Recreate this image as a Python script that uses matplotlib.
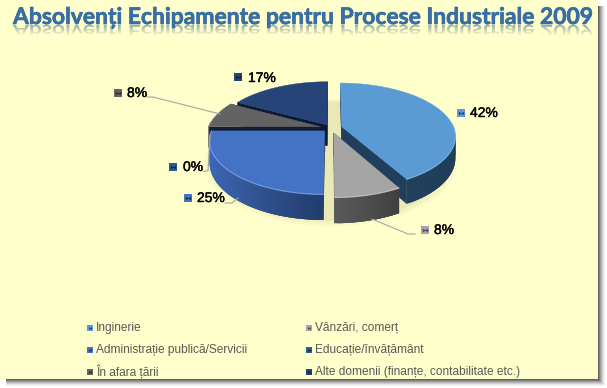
import numpy as np
import matplotlib
matplotlib.use("Agg")
import matplotlib.pyplot as plt
from matplotlib.patches import Polygon, Rectangle, PathPatch
from matplotlib.textpath import TextPath
from matplotlib.font_manager import FontProperties
from matplotlib.transforms import Affine2D
from matplotlib.colors import to_rgb, LinearSegmentedColormap
import matplotlib.patheffects as pe

# ---------- data ----------
title = "Absolvenți Echipamente pentru Procese Industriale 2009"
categories = ["Inginerie", "Vânzări, comerț", "Administrație publică/Servicii",
              "Educație/învățământ", "În afara țării",
              "Alte domenii (finanțe, contabilitate etc.)"]
values = [42, 8, 25, 0, 8, 17]

# ---------- style ----------
top_colors = ["#5b9bd5", "#a5a5a5", "#4472c4", "#255e91", "#636363", "#264478"]
wall_left = ["#24435f", "#5a5a5a", "#3f6ab8", "#1e4a70", "#444444", "#1b3157"]
wall_right = ["#1f3d58", "#3f3f3f", "#233c6c", "#1e4a70", "#333333", "#14264a"]
cut_colors = ["#203f5c", "#4a4a4a", "#1c3258", "#1e4a70", "#0f1d36", "#0c1a36"]
rim_colors = ["#7fb3e2", "#c4c4c4", "#7ea2e4", "#255e91", "#808080", "#3b5a96"]
explode = [0.10, 0.10, 0.08, 0.10, 0.10, 0.07]
panel = "#ffffcc"
CX, CY, RX, RY, K, DEPTH = 331, 128, 112, 51.5, 0.17, 21
label_pos = [(470, 113), (434, 230), (197, 198), (183, 167), (127, 93), (248, 78)]
label_mark = [(461, 113), (425, 230), (188, 198), (173, 167), (118, 93), (238, 77)]
leaders = {1: [(415, 234), (408, 234), (372, 219)],
           2: [(225, 203), (232, 203), (238, 198)],
           3: [(203, 171), (208, 171), (210, 135)],
           4: [(147, 97), (153, 97), (220, 114)]}
legend_rows = [327.5, 350, 372]
legend_cols = [90, 309]

fig = plt.figure(figsize=(6.07, 3.88), dpi=100, facecolor="white")

# Slice geometry comes from matplotlib's own pie layout
tmp = fig.add_axes([0, 0, 0.1, 0.1])
wedges, _ = tmp.pie(values, explode=explode, startangle=90,
                    counterclock=False, radius=1)
geom = [(w.center[0], w.center[1], w.theta1, w.theta2) for w in wedges]
tmp.remove()

ax = fig.add_axes([0, 0, 1, 1])
ax.set_xlim(0, 607)
ax.set_ylim(388, 0)
ax.axis("off")

# panel and window shadow
for i, a in zip(range(8, 0, -1), [.05, .08, .11, .15, .2, .27, .35, .45]):
    ax.add_patch(Rectangle((6, 6), 591 + i, 372 + i, fc="#303030", ec="none", alpha=a, zorder=0))
ax.add_patch(Rectangle((0, 0), 598, 379, fc=panel, ec="none", zorder=1))


def proj(u, v, z=0.0):
    w = 1 + K * v
    return CX + RX * u / w, CY - RY * v / w + z * DEPTH / w


def rim(g, n=None):
    cx, cy, t1, t2 = g
    n = n or max(2, int(abs(t2 - t1)))
    th = np.radians(np.linspace(t1, t2, n))
    return cx + np.cos(th), cy + np.sin(th)


# soft ground shadow
th = np.radians(np.linspace(0, 360, 180))
for grow, a in [(1.10, .05), (1.07, .06), (1.04, .08)]:
    pts = [proj(grow * np.cos(t), grow * np.sin(t) - 0.03, 1.0) for t in th]
    ax.add_patch(Polygon(pts, fc="#8a8a5a", ec="none", alpha=a, zorder=1.5))

order = [5, 4, 3, 0, 2, 1]
for rank, i in enumerate(order):
    if values[i] == 0:
        continue
    g = geom[i]
    cx, cy = g[0], g[1]
    z = 2 + rank
    us, vs = rim(g)
    # radial cut faces
    for u0, v0 in [(us[0], vs[0]), (us[-1], vs[-1])]:
        face = [proj(cx, cy), proj(u0, v0), proj(u0, v0, 1), proj(cx, cy, 1)]
        ax.add_patch(Polygon(face, fc=cut_colors[i], ec=cut_colors[i], lw=.3, zorder=z))
    # curved outer wall, shaded left to right; strips overlap to hide seams
    c0, c1 = np.array(to_rgb(wall_left[i])), np.array(to_rgb(wall_right[i]))
    idx = list(range(len(us) - 1))
    idx.sort(key=lambda j: us[j])
    xs = us - cx
    for j in idx:
        if vs[j] > 0.05 and vs[j + 1] > 0.05:
            continue
        f = np.clip((us[j] - us.min()) / max(np.ptp(us), 1e-6), 0, 1)
        col = c0 + (c1 - c0) * f
        a, b = j, min(j + 3, len(us) - 1)
        strip = [proj(us[k], vs[k]) for k in range(a, b + 1)] + \
                [proj(us[k], vs[k], 1) for k in range(b, a - 1, -1)]
        ax.add_patch(Polygon(strip, fc=col, ec="none", zorder=z))
    # top face
    top = [proj(cx, cy)] + [proj(u, v) for u, v in zip(us, vs)]
    ax.add_patch(Polygon(top, fc=top_colors[i], ec=top_colors[i], lw=.3, zorder=z + .1))
    # bright front rim
    front = [proj(u, v) for u, v in zip(us, vs) if v < 0.1]
    if front:
        ax.plot(*zip(*front), color=rim_colors[i], lw=.9, alpha=.8, zorder=z + .2,
                solid_capstyle="round")


def marker(x, y, color, size):
    """Small bevelled square: dark bow-tie on the series colour."""
    ax.scatter([x], [y], marker="s", s=size, c=[color], linewidths=0, zorder=20)
    dark = np.array(to_rgb(color)) * .45
    ax.scatter([x - size ** .5 * .12], [y], marker=">", s=size * .22, c=[dark], linewidths=0, zorder=21)
    ax.scatter([x + size ** .5 * .12], [y], marker="<", s=size * .22, c=[dark], linewidths=0, zorder=21)


# leader lines and data labels
for pts in leaders.values():
    ax.plot(*zip(*pts), color="#a6a6a6", lw=.8, zorder=15)
for i, v in enumerate(values):
    marker(*label_mark[i], top_colors[i], 26)
    t = ax.text(*label_pos[i], f"{v}%", family="Liberation Sans", fontsize=10,
                color="black", va="center", ha="left", zorder=20)
    t.set_path_effects([pe.withStroke(linewidth=.3, foreground="black")])

# legend
for i, name in enumerate(categories):
    x = legend_cols[i % 2]
    y = legend_rows[i // 2]
    marker(x, y, top_colors[i], 15)
    ax.text(x + 6, y, name, family="Liberation Sans", fontsize=8.6, color="#595959",
            va="center", ha="left", zorder=20)

# title with fading reflection; size is fitted to the reference's width
TX, TY, TW = 13, 24, 579
fp = FontProperties(family="Lato", weight="bold")
unit = TextPath((0, 0), title, size=100, prop=fp).get_extents().width
TS_px = 100 * TW / unit
TS = TS_px * 72 / 100
path = TextPath((0, 0), title, size=TS_px, prop=fp)
refl = PathPatch(path, transform=Affine2D().scale(1, 0.75).translate(TX, TY + 1) + ax.transData,
                 fc="none", ec="none")
ax.add_patch(refl)
cmap = LinearSegmentedColormap.from_list("fade", [(0.35, .47, .55, .62), (0.35, .47, .55, 0)])
im = ax.imshow(np.linspace(0, 1, 32)[:, None], extent=(0, 607, TY + 12, TY + 1), cmap=cmap,
               aspect="auto", zorder=3, origin="upper")
im.set_clip_path(refl)
ax.set_xlim(0, 607)
ax.set_ylim(388, 0)
tt = ax.text(TX, TY, title, fontproperties=fp, fontsize=TS, color="#376ea6",
             va="baseline", ha="left", zorder=5)
tt.set_path_effects([pe.withStroke(linewidth=.5, foreground="#376ea6")])

fig.savefig("out.png", dpi=100, facecolor="white")
